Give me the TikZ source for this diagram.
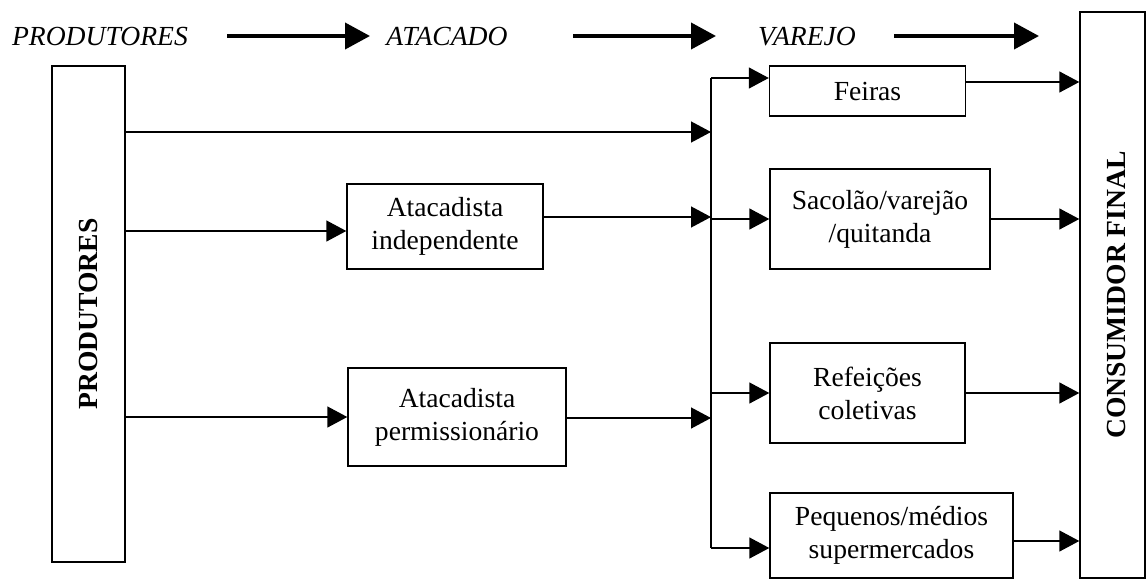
\documentclass[tikz,border=0pt]{standalone}
\usepackage{fontspec}
\setmainfont{Liberation Serif}
\usetikzlibrary{arrows.meta}

\tikzset{
	caixa/.style={draw, line width=0.7pt, align=center, inner sep=0pt, font=\fontsize{13.8}{16.5}\selectfont},
	coluna/.style={draw, line width=0.7pt, inner sep=0pt},
	rotulo/.style={rotate=90, font=\fontsize{13.8}{16}\selectfont\bfseries},
	etapa/.style={anchor=base, font=\fontsize{13.8}{16}\selectfont\itshape},
	seta/.style={line width=0.7pt, -{Triangle[length=10pt,width=10.5pt]}},
	setagrossa/.style={line width=2pt, -{Triangle[length=12.5pt,width=13pt]}},
	linha/.style={line width=0.7pt}
}

\begin{document}
\begin{tikzpicture}[x=0.5pt, y=-0.5pt]
		%%%%% START %%%%%
		\useasboundingbox (0, 0) rectangle (1147, 584);
		
		% etapas
		\node[etapa] (tprod) at (100, 45) {PRODUTORES};
		\node[etapa] (tatac) at (447, 45) {ATACADO};
		\node[etapa] (tvar) at (807, 45) {VAREJO};
		\coordinate (h1a) at (227, 36);
		\coordinate (h1b) at (370, 36);
		\coordinate (h2a) at (573, 36);
		\coordinate (h2b) at (716, 36);
		\coordinate (h3a) at (894, 36);
		\coordinate (h3b) at (1039, 36);
		\draw[setagrossa] (h1a) -- (h1b);
		\draw[setagrossa] (h2a) -- (h2b);
		\draw[setagrossa] (h3a) -- (h3b);
		
		% colunas
		\node[coluna, minimum width=36.5pt, minimum height=248pt] (prod) at (88.5, 314) {};
		\node[rotulo] (prodtxt) at (prod.center) {PRODUTORES};
		\node[coluna, minimum width=32.5pt, minimum height=283pt] (cons) at (1112.5, 295) {};
		\node[rotulo] (constxt) at ([xshift=2pt]cons.center) {CONSUMIDOR FINAL};
		
		% atacado
		\node[caixa, minimum width=98pt, minimum height=42.5pt] (indep) at (445, 226.5) {Atacadista\\independente};
		\node[caixa, minimum width=109pt, minimum height=49pt] (perm) at (457, 417) {Atacadista\\permission\'ario};
		
		% varejo
		\node[caixa, minimum width=98pt, minimum height=25pt] (feiras) at (867.5, 91) {Feiras};
		\node[caixa, minimum width=110pt, minimum height=50pt] (sacolao) at (880, 219) {Sacol\~ao/varej\~ao\\/quitanda};
		\node[caixa, minimum width=97.5pt, minimum height=50pt] (refeic) at (867.5, 393) {Refei\c{c}\~oes\\coletivas};
		\node[caixa, minimum width=121.5pt, minimum height=42.5pt] (pequenos) at (891.5, 535.5) {Pequenos/m\'edios\\supermercados};
		
		% barramento
		\coordinate (b0) at (711, 78);
		\coordinate (b1) at (711, 132);
		\coordinate (b2) at (711, 217);
		\coordinate (b3) at (711, 219);
		\coordinate (b4) at (711, 393);
		\coordinate (b5) at (711, 418);
		\coordinate (b6) at (711, 548);
		\draw[linha] (b0) -- (b6);
		
		% produtores -> atacado / varejo
		\draw[seta] (prod.east |- b1) -- (b1);
		\draw[seta] (prod.east |- 0,231) -- (indep.west |- 0,231);
		\draw[seta] (prod.east |- perm.west) -- (perm.west);
		\draw[seta] (indep.east |- b2) -- (b2);
		\draw[seta] (perm.east |- b5) -- (b5);
		
		% barramento -> varejo
		\draw[seta] (b0) -- (feiras.west |- b0);
		\draw[seta] (b3) -- (sacolao.west |- b3);
		\draw[seta] (b4) -- (refeic.west |- b4);
		\draw[seta] (b6) -- (pequenos.west |- b6);
		
		% varejo -> consumidor
		\draw[seta] (feiras.east |- 0,82) -- (cons.west |- 0,82);
		\draw[seta] (sacolao.east) -- (cons.west |- sacolao.east);
		\draw[seta] (refeic.east) -- (cons.west |- refeic.east);
		\draw[seta] (pequenos.east |- 0,541) -- (cons.west |- 0,541);
		
		%%%%% END %%%%%
\end{tikzpicture}
\end{document}
